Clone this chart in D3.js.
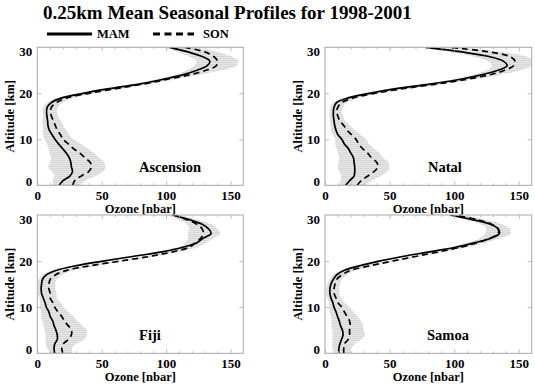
<!DOCTYPE html>
<html><head><meta charset="utf-8">
<script src="https://cdn.jsdelivr.net/npm/d3@7"></script>
<style>
body{margin:0;background:#fff}
svg{display:block}
text{font-family:"Liberation Serif","Times New Roman",serif;font-weight:bold;fill:#000}
</style>
</head><body>
<svg id="chart" width="535" height="388"></svg>
<script>
// ---------- data ----------
const chartTitle = "0.25km Mean Seasonal Profiles for 1998-2001";
const seasons = ["MAM", "SON"];
const stations = ["Ascension", "Natal", "Fiji", "Samoa"];
const xLabel = "Ozone [nbar]";
const yLabel = "Altitude [km]";
const xTicks = [0, 50, 100, 150];
const yTicks = [0, 10, 20, 30];
const altitudes = [0,1,2,3,4,5,6,7,8,9,10,11,12,13,14,15,16,17,18,19,20,21,22,23,24,25,26,27,28,29,30];

const ascensionMAM = [17,20,25.3,27.3,26.5,26,24.8,22.5,19.6,16.5,13.7,11.5,9.3,8.3,8,7.5,7.2,7.7,11,19,35.6,56,79,97,113,124,132,134,128,117,103];
const ascensionSON = [27.5,29,34,40,42,41,37,33,28,24,20,18,15.5,14,12.5,11,10.3,11,15,23,40,61,82,100,118,131,139,140,137,130,115];
const ascensionMAMsd = [5,8,12,16,18,16,14,13,11,9,8,7,5,4,4,3,3,3,3,4,4,5,5,6,6,8,10,10,10,8,6];
const ascensionSONsd = [6,8,11,11,11,11,11,11,11,10,8,7,7,6,6,5,5,5,5,5,5,5,5,6,7,12,16,16,14,10,7];

const natalMAM = [16,19,22.5,23,23,22.5,22,20,18,15,13,10,8.5,7.5,7,6.5,6.5,7,9,18,34.5,55,81,104,121,134,141,138,127,106,78];
const natalSON = [25,28,33,38,41,40,36,33,29,26,24,20.5,17,14.5,11.5,10,9,10,13,22,38,60,86,109,127,139,146,147,143,127,96];
const natalMAMsd = [5,7,10,12,13,12,11,10,9,7,5,4,4,3,3,3,3,3,3,4,4,5,5,6,7,9,12,12,12,9,7];
const natalSONsd = [6,8,10,10,9,9,9,9,9,8,8,7,6,5,4,4,4,4,4,4,5,5,5,6,8,12,14,14,13,10,8];

const fijiMAM = [13.5,13,13.5,15.5,15.5,14.5,13,12,10,9,7,6,4.6,3.3,3,3.3,4,7,15,30,51,74,97,113,124,129,135,133,128,118,105];
const fijiSON = [20,19,20,24,26.5,26.5,24,21,19,16,13.5,12,10,10,9,9,10,14,23,41,64,87,105,118,123,127,129,128,124,116,106];
const fijiMAMsd = [4,5,7,9,9,9,8,8,7,6,5,4,3,3,3,3,3,3,4,4,4,4,5,5,5,6,7,7,7,6,5];
const fijiSONsd = [7,8,10,12,12,12,11,10,9,8,7,6,5,5,5,5,5,5,5,5,5,5,5,6,8,10,12,10,8,6,5];

const samoaMAM = [10.7,10.7,11.5,12.8,14,13.5,12,11,9.7,8.5,7,6,4.6,3.8,3.8,4.6,6.4,9,15,27,42,60,81,101,116,129,135,134,128,114,97];
const samoaSON = [14.5,14.5,15,18,19,19,19.5,19,17,15,13,10,8.5,7,7,7.7,9,13,20,35,52,70,88,105,118,128,134,134,129,118,100];
const samoaMAMsd = [4,5,6,7,8,8,7,6,5,5,4,3,3,3,3,3,3,3,3,4,4,4,4,5,5,6,8,8,7,6,5];
const samoaSONsd = [5,6,8,10,12,11,10,9,8,7,6,5,4,4,4,4,4,4,4,4,4,4,4,5,6,8,10,9,8,6,5];

const stationMeans = [[ascensionMAM, ascensionSON],[natalMAM, natalSON],[fijiMAM, fijiSON],[samoaMAM, samoaSON]];
const stationSds = [[ascensionMAMsd, ascensionSONsd],[natalMAMsd, natalSONsd],[fijiMAMsd, fijiSONsd],[samoaMAMsd, samoaSONsd]];

// ---------- layout ----------
const frames = [
  {l:37.3, t:47.3, r:243.3, b:185.3, lx:0.644},
  {l:325,  t:47.3, r:531.7, b:185.3, lx:0.58},
  {l:37.3, t:215,  r:243.3, b:353.3, lx:0.547},
  {l:325,  t:215,  r:531.7, b:353.3, lx:0.595}
];
const frameColor = "#a9a9a9";
const tickColor = "#bdbdbd";

const svg = d3.select("#chart");

// striped band pattern
const defs = svg.append("defs");
const pat = defs.append("pattern").attr("id", "stripes").attr("patternUnits", "userSpaceOnUse")
  .attr("width", 4).attr("height", 2);
pat.append("rect").attr("width", 4).attr("height", 2).attr("fill", "#e6e6e6");
pat.append("rect").attr("width", 4).attr("height", 1).attr("fill", "#d7d7d7");

// title
svg.append("text").attr("x", 43).attr("y", 18.5)
  .style("font-size", "19px").text(chartTitle);

// legend
const leg = svg.append("g");
leg.append("line").attr("x1", 47).attr("x2", 92).attr("y1", 34).attr("y2", 34)
  .attr("stroke", "#000").attr("stroke-width", 3);
leg.append("text").attr("x", 97).attr("y", 38).style("font-size", "12.5px").text(seasons[0]);
leg.append("line").attr("x1", 153).attr("x2", 194).attr("y1", 34).attr("y2", 34)
  .attr("stroke", "#000").attr("stroke-width", 3).attr("stroke-dasharray", "7,4.5");
leg.append("text").attr("x", 203).attr("y", 38).style("font-size", "12.5px").text(seasons[1]);

const dashes = [null, "6,4"];

stations.forEach((name, i) => {
  const f = frames[i];
  const x = d3.scaleLinear().domain([0, 160]).range([f.l, f.r]);
  const y = d3.scaleLinear().domain([0, 30]).range([f.b, f.t]);
  const g = svg.append("g");

  const clipId = "clip" + i;
  g.append("clipPath").attr("id", clipId).append("rect")
    .attr("x", f.l).attr("y", f.t).attr("width", f.r - f.l).attr("height", f.b - f.t);
  const plot = g.append("g").attr("clip-path", `url(#${clipId})`);

  // spread bands
  seasons.forEach((s, k) => {
    const m = stationMeans[i][k], sd = stationSds[i][k];
    const area = d3.area()
      .y((d, j) => y(altitudes[j]))
      .x0((d, j) => x(m[j] - sd[j]))
      .x1((d, j) => x(m[j] + sd[j]))
      .curve(d3.curveMonotoneY);
    plot.append("path").datum(altitudes).attr("d", area).attr("fill", "url(#stripes)");
  });

  // mean profiles
  seasons.forEach((s, k) => {
    const m = stationMeans[i][k];
    const line = d3.line()
      .x((d, j) => x(m[j]))
      .y((d, j) => y(altitudes[j]))
      .curve(d3.curveCatmullRom);
    plot.append("path").datum(altitudes).attr("d", line)
      .attr("fill", "none").attr("stroke", "#000").attr("stroke-width", 1.7)
      .attr("stroke-dasharray", dashes[k]);
  });

  // minor ticks (top & bottom)
  const minor = [10,20,30,40,60,70,80,90,110,120,130,140];
  const mk = (axis, tx, ty) => {
    const a = g.append("g").attr("transform", `translate(${tx},${ty})`).call(axis);
    a.select(".domain").remove();
    a.selectAll("line").attr("stroke", tickColor);
    a.selectAll("text").remove();
    return a;
  };
  mk(d3.axisBottom(x).tickValues(minor).tickSizeInner(-2).tickSizeOuter(0), 0, f.b);
  mk(d3.axisTop(x).tickValues(minor).tickSizeInner(-2).tickSizeOuter(0), 0, f.t);
  mk(d3.axisTop(x).tickValues([50, 100, 150]).tickSizeInner(-4).tickSizeOuter(0), 0, f.t);
  mk(d3.axisRight(y).tickValues([10, 20]).tickSizeInner(-4).tickSizeOuter(0), f.r, 0);

  // bottom axis with labels
  const xa = g.append("g").attr("transform", `translate(0,${f.b})`)
    .call(d3.axisBottom(x).tickValues(xTicks).tickSizeInner(-4).tickSizeOuter(0));
  xa.select(".domain").remove();
  xa.selectAll("line").attr("stroke", tickColor);
  xa.selectAll("text").attr("y", 15).attr("dy", null)
    .style("font-size", "13px").style("font-family", '"Liberation Serif",serif').style("font-weight", "bold")
    .attr("fill", "#000");

  // left axis with labels
  const ya = g.append("g").attr("transform", `translate(${f.l},0)`)
    .call(d3.axisLeft(y).tickValues(yTicks).tickSizeInner(-4).tickSizeOuter(0));
  ya.select(".domain").remove();
  ya.selectAll("line").attr("stroke", tickColor);
  ya.selectAll("text").attr("x", -5).attr("dy", d => d === 30 ? "0.62em" : d === 0 ? "0.05em" : "0.34em")
    .style("font-size", "13px").style("font-family", '"Liberation Serif",serif').style("font-weight", "bold")
    .attr("fill", "#000");
  ya.selectAll(".tick").filter(d => d === 0 || d === 30).select("line").remove();

  // frame
  g.append("rect").attr("x", f.l).attr("y", f.t).attr("width", f.r - f.l).attr("height", f.b - f.t)
    .attr("fill", "none").attr("stroke", frameColor).attr("stroke-width", 1);

  // axis titles
  g.append("text").attr("x", (f.l + f.r) / 2).attr("y", f.b + 27.5)
    .attr("text-anchor", "middle").style("font-size", "12.5px").text(xLabel);
  g.append("text").attr("transform", `translate(${f.l - 23.5},${(f.t + f.b) / 2}) rotate(-90)`)
    .attr("text-anchor", "middle").style("font-size", "12.5px").text(yLabel);

  // station name
  g.append("text").attr("x", f.l + f.lx * (f.r - f.l)).attr("y", f.b - 13)
    .attr("text-anchor", "middle").style("font-size", "14.5px").text(name);
});
</script>
</body></html>
